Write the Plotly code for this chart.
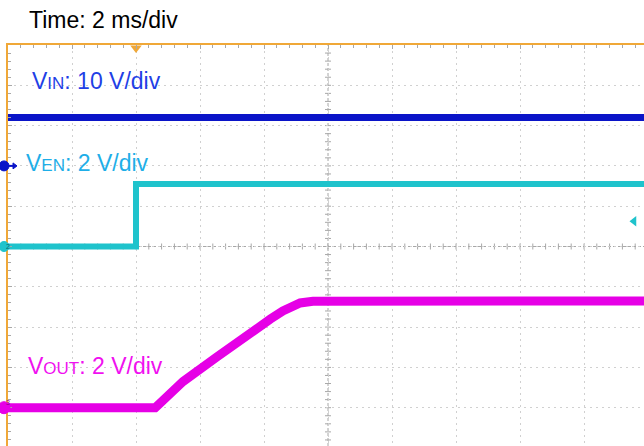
import plotly.graph_objects as go

# ---------------- data (read from the scope capture) ----------------
TIME_PER_DIV_MS = 2.0          # 2 ms/div
VIN_V_PER_DIV = 10.0
VEN_V_PER_DIV = 2.0
VOUT_V_PER_DIV = 2.0

# channel ground positions (in divisions from screen centre)
VIN_GND_DIV = 2.0
VEN_GND_DIV = 0.0
VOUT_GND_DIV = -4.0

TRIGGER_TIME_MS = 4.0
EN_TRIGGER_LEVEL_V = 1.25

vin_t = [0.0, 20.0]
vin_v = [12.0, 12.0]

ven_t = [0.0, 4.0, 4.0, 20.0]
ven_v = [0.0, 0.0, 3.1, 3.1]

vout_t = [0.0, 4.6, 4.8, 5.47, 6.53, 7.56, 8.2, 8.59, 8.9, 9.13, 9.53, 20.0]
vout_v = [0.0, 0.0, 0.3, 1.3, 2.52, 3.76, 4.4, 4.8, 5.05, 5.2, 5.28, 5.3]

labels = {
    "time": "Time: 2 ms/div",
    "vin": ("V", "IN", ": 10 V/div"),
    "ven": ("V", "EN", ": 2 V/div"),
    "vout": ("V", "OUT", ": 2 V/div"),
}

# ---------------- geometry / style ----------------
W, H = 644, 446
ML, MT = 8, 45
PX_PER_DIV_X = 64.0
PX_PER_DIV_Y = 40.3
plot_w = W - ML
plot_h = H - MT
x_max = plot_w / PX_PER_DIV_X * TIME_PER_DIV_MS
div_top = 5.0
div_bot = div_top - plot_h / PX_PER_DIV_Y

C_VIN = "#0a14c8"
C_VIN_TXT = "#1f3fe6"
C_VEN = "#1fc3cc"
C_VEN_TXT = "#1eaee8"
C_VOUT = "#e600e6"
C_VOUT_TXT = "#f010f0"
C_FRAME = "#f0a838"
C_GRID = "#d0d0d0"
C_TICK = "#a8a8a8"
FONT = "Arial, Liberation Sans, sans-serif"


def chan_range(gnd_div, v_per_div):
    return [(div_bot - gnd_div) * v_per_div, (div_top - gnd_div) * v_per_div]


def px_to_paper(px, py):
    return (px - ML) / plot_w, 1 - (py - MT) / plot_h


def div_to_paper(d):
    return (d - div_bot) / (div_top - div_bot)


fig = go.Figure()

fig.add_trace(go.Scatter(x=vin_t, y=vin_v, mode="lines", yaxis="y2",
                         line=dict(color=C_VIN, width=7), hoverinfo="skip",
                         showlegend=False))
fig.add_trace(go.Scatter(x=ven_t, y=ven_v, mode="lines", yaxis="y3",
                         line=dict(color=C_VEN, width=6), hoverinfo="skip",
                         showlegend=False))
fig.add_trace(go.Scatter(x=vout_t, y=vout_v, mode="lines", yaxis="y4",
                         line=dict(color=C_VOUT, width=9),
                         hoverinfo="skip", showlegend=False))

# trigger position marker on top frame
fig.add_trace(go.Scatter(x=[TRIGGER_TIME_MS], y=[div_top - 3 / PX_PER_DIV_Y], mode="markers",
                         marker=dict(symbol="triangle-down", size=10, color=C_FRAME),
                         cliponaxis=False, hoverinfo="skip", showlegend=False))
# trigger level marker on right edge (EN channel)
fig.add_trace(go.Scatter(x=[x_max - 10 / PX_PER_DIV_X * TIME_PER_DIV_MS], y=[EN_TRIGGER_LEVEL_V],
                         yaxis="y3", mode="markers",
                         marker=dict(symbol="triangle-left", size=9, color=C_VEN),
                         cliponaxis=False, hoverinfo="skip", showlegend=False))

shapes = []
# centre cross-hair lines
shapes.append(dict(type="line", xref="paper", yref="y", x0=0, x1=1, y0=0, y1=0,
                   line=dict(color=C_TICK, width=1, dash="3px,2px"), layer="below"))
shapes.append(dict(type="line", xref="x", yref="paper", x0=5 * TIME_PER_DIV_MS,
                   x1=5 * TIME_PER_DIV_MS, y0=0, y1=1,
                   line=dict(color=C_TICK, width=1, dash="3px,2px"), layer="below"))
# minor ticks on centre lines
k = 0
while k * TIME_PER_DIV_MS / 5 <= x_max:
    t = k * TIME_PER_DIV_MS / 5
    shapes.append(dict(type="line", xref="x", yref="y", ysizemode="pixel", yanchor=0,
                       x0=t, x1=t, y0=-3, y1=3, line=dict(color=C_TICK, width=1),
                       layer="below"))
    k += 1
k = 0
while div_bot + k * 0.2 <= div_top:
    d = round((div_bot + k * 0.2) * 5) / 5
    shapes.append(dict(type="line", xref="x", yref="y", xsizemode="pixel",
                       xanchor=5 * TIME_PER_DIV_MS, x0=-3, x1=3, y0=d, y1=d,
                       line=dict(color=C_TICK, width=1), layer="below"))
    k += 1


def gnd_marker(gnd_div, color, r):
    return dict(type="circle", xref="paper", yref="paper", xsizemode="pixel", ysizemode="pixel",
                xanchor=0, yanchor=div_to_paper(gnd_div), x0=-4 - r, x1=-4 + r, y0=-r, y1=r,
                fillcolor=color, line=dict(color=color, width=1), layer="above")


shapes.append(gnd_marker(VIN_GND_DIV, C_VIN, 5))
shapes.append(dict(type="line", xref="paper", yref="paper", xsizemode="pixel", ysizemode="pixel",
                   xanchor=0, yanchor=div_to_paper(VIN_GND_DIV), x0=0, x1=7, y0=0, y1=0,
                   line=dict(color=C_VIN, width=2)))
shapes.append(dict(type="path", xref="paper", yref="paper", xsizemode="pixel", ysizemode="pixel",
                   xanchor=0, yanchor=div_to_paper(VIN_GND_DIV), path="M 5,3 L 9,0 L 5,-3 Z",
                   fillcolor=C_VIN, line=dict(color=C_VIN, width=1)))
shapes.append(gnd_marker(VEN_GND_DIV, C_VEN, 5))
shapes.append(gnd_marker(VOUT_GND_DIV, C_VOUT, 6))

annotations = []
tx, ty = px_to_paper(27, 20)
annotations.append(dict(text=labels["time"], x=tx, y=ty, xref="paper", yref="paper",
                        xanchor="left", yanchor="middle", showarrow=False,
                        font=dict(family=FONT, size=23, color="black")))


def chan_label(key, px, py, color):
    v, sub, rest = labels[key]
    ax, ay = px_to_paper(px, py)
    txt = f"{v}<span style='font-size:17px'>{sub}</span>{rest}"
    return dict(text=txt, x=ax, y=ay, xref="paper", yref="paper", xanchor="left",
                yanchor="middle", showarrow=False, font=dict(family=FONT, size=23, color=color))


annotations.append(chan_label("vin", 30, 81, C_VIN_TXT))
annotations.append(chan_label("ven", 24, 163, C_VEN_TXT))
annotations.append(chan_label("vout", 26, 366, C_VOUT_TXT))

# channel numbers in ground markers
gx, _ = px_to_paper(4, 0)
annotations.append(dict(text="2", x=gx, y=div_to_paper(VEN_GND_DIV), xref="paper", yref="paper",
                        showarrow=False, font=dict(family=FONT, size=7, color="#0a6a70")))
annotations.append(dict(text="3", x=gx, y=div_to_paper(VOUT_GND_DIV), xref="paper", yref="paper",
                        showarrow=False, font=dict(family=FONT, size=7, color="#8a008a")))

fig.update_layout(
    width=W, height=H,
    margin=dict(l=ML, r=0, t=MT, b=0),
    paper_bgcolor="white", plot_bgcolor="white",
    showlegend=False,
    xaxis=dict(range=[0, x_max], side="top", showline=True, linecolor=C_FRAME, linewidth=2,
               showgrid=True, gridcolor=C_GRID, griddash="2px,4px", gridwidth=1,
               dtick=TIME_PER_DIV_MS, tick0=0, ticks="inside", ticklen=4, tickcolor=C_TICK,
               minor=dict(dtick=TIME_PER_DIV_MS / 5, tick0=0, ticks="inside", ticklen=3,
                          tickcolor=C_TICK, showgrid=False),
               showticklabels=False, zeroline=False, fixedrange=True),
    yaxis=dict(range=[div_bot, div_top], showline=True, linecolor=C_FRAME, linewidth=2,
               showgrid=True, gridcolor=C_GRID, griddash="2px,4px", gridwidth=1,
               dtick=1, tick0=0, ticks="inside", ticklen=4, tickcolor=C_TICK,
               minor=dict(dtick=0.2, tick0=0, ticks="inside", ticklen=3, tickcolor=C_TICK,
                          showgrid=False),
               showticklabels=False, zeroline=False, fixedrange=True),
    yaxis2=dict(range=chan_range(VIN_GND_DIV, VIN_V_PER_DIV), overlaying="y", visible=False),
    yaxis3=dict(range=chan_range(VEN_GND_DIV, VEN_V_PER_DIV), overlaying="y", visible=False),
    yaxis4=dict(range=chan_range(VOUT_GND_DIV, VOUT_V_PER_DIV), overlaying="y", visible=False),
    shapes=shapes,
    annotations=annotations,
)

fig.write_html("out.html", config={"displayModeBar": False},
               post_script="document.body.style.margin='0';document.body.style.overflow='hidden';")
